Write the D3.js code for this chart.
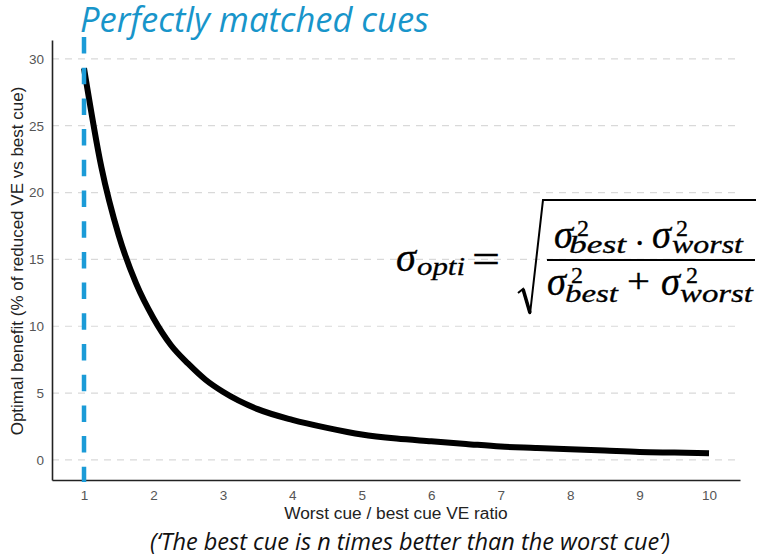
<!DOCTYPE html>
<html>
<head>
<meta charset="utf-8">
<script src="https://cdn.jsdelivr.net/npm/d3@7"></script>
<style>
  body { margin: 0; background: #fff; }
  svg { display: block; }
</style>
</head>
<body>
<div id="chart"></div>
<script>
// Values
const ratio   = [1, 1.25, 1.5, 1.75, 2, 2.25, 2.5, 2.75, 3, 3.5, 4, 4.5, 5, 5.5, 6, 6.5, 7, 7.5, 8, 8.5, 9, 9.5, 10];
const benefit = [29.3, 21.9, 16.8, 13.2, 10.6, 8.6, 7.2, 6.0, 5.1, 3.8, 3.0, 2.4, 1.9, 1.6, 1.4, 1.2, 1.0, 0.9, 0.8, 0.7, 0.6, 0.55, 0.5];
const xTicks = [1, 2, 3, 4, 5, 6, 7, 8, 9, 10];
const yTicks = [0, 5, 10, 15, 20, 25, 30];
const matchedRatio = 1;

const width = 768, height = 559;
const plot = { left: 52, right: 740, top: 40, bottom: 480 };

const svg = d3.select("#chart")
  .append("svg")
  .attr("width", width)
  .attr("height", height);

// Scales
const x = d3.scaleLinear()
  .domain([0.539, 10.446])
  .range([plot.left, plot.right]);

const y = d3.scaleLinear()
  .domain([-1.5, 31.41])
  .range([plot.bottom, plot.top]);

// Horizontal dashed gridlines
svg.append("g")
  .selectAll("line")
  .data(yTicks)
  .join("line")
  .attr("x1", plot.left)
  .attr("x2", plot.right - 2)
  .attr("y1", d => y(d))
  .attr("y2", d => y(d))
  .attr("stroke", "#d9d9d9")
  .attr("stroke-width", 1.2)
  .attr("stroke-dasharray", "7,6");

// Axes (no tick marks, just labels)
const xAxis = svg.append("g")
  .attr("transform", `translate(0,${plot.bottom})`)
  .call(d3.axisBottom(x).tickValues(xTicks).tickSize(0).tickPadding(10));

const yAxis = svg.append("g")
  .attr("transform", `translate(${plot.left},0)`)
  .call(d3.axisLeft(y).tickValues(yTicks).tickSize(0).tickPadding(8));

[xAxis, yAxis].forEach(a => {
  a.select(".domain").attr("stroke", "#222").attr("stroke-width", 1.6);
  a.selectAll("text")
    .attr("fill", "#555")
    .style("font-family", "'Liberation Sans', Arial, sans-serif")
    .style("font-size", "13.5px");
});

// Curve
const line = d3.line()
  .x(d => x(d[0]))
  .y(d => y(d[1]))
  .curve(d3.curveMonotoneX);

svg.append("path")
  .datum(ratio.map((r, i) => [r, benefit[i]]))
  .attr("fill", "none")
  .attr("stroke", "#000")
  .attr("stroke-width", 6)
  .attr("d", line);

// Perfectly matched cues line
svg.append("line")
  .attr("x1", x(matchedRatio))
  .attr("x2", x(matchedRatio))
  .attr("y1", 37)
  .attr("y2", plot.bottom + 2)
  .attr("stroke", "#1b9bd7")
  .attr("stroke-width", 4.5)
  .attr("stroke-dasharray", "16.5,14.2");

// Titles
svg.append("text")
  .attr("x", 80)
  .attr("y", 32)
  .attr("fill", "#1895ca")
  .style("font-family", "'Open Sans', sans-serif")
  .style("font-style", "italic")
  .style("font-size", "34.5px")
  .text("Perfectly matched cues");

svg.append("text")
  .attr("x", 396)
  .attr("y", 519)
  .attr("text-anchor", "middle")
  .attr("fill", "#222")
  .style("font-family", "'Liberation Sans', Arial, sans-serif")
  .style("font-size", "17.3px")
  .text("Worst cue / best cue VE ratio");

svg.append("text")
  .attr("transform", "translate(22.5,261) rotate(-90)")
  .attr("text-anchor", "middle")
  .attr("fill", "#222")
  .style("font-family", "'Liberation Sans', Arial, sans-serif")
  .style("font-size", "17px")
  .text("Optimal benefit (% of reduced VE vs best cue)");

svg.append("text")
  .attr("x", 410)
  .attr("y", 550)
  .attr("text-anchor", "middle")
  .attr("fill", "#111")
  .style("font-family", "'Open Sans', sans-serif")
  .style("font-style", "italic")
  .style("font-size", "23.5px")
  .text("(\u2018The best cue is n times better than the worst cue\u2019)");

// Formula
const eq = svg.append("g")
  .attr("fill", "#000")
  .attr("stroke", "#000")
  .attr("stroke-width", 0.3)
  .style("font-family", "'Liberation Serif', 'DejaVu Serif', serif")
  .style("font-style", "italic");

function put(tx, px, py, size, len) {
  const t = eq.append("text")
    .attr("x", px)
    .attr("y", py)
    .style("font-size", size + "px")
    .text(tx);
  if (len) t.attr("textLength", len).attr("lengthAdjust", "spacingAndGlyphs");
  return t;
}

put("\u03c3", 396, 271, 41, 20);
put("opti", 417, 275, 26, 48);
put("=", 472, 273, 40, 28).style("font-style", "normal");

eq.append("path")
  .attr("d", "M518,293 L523,289 L530,314 L543,200 L756,200")
  .attr("fill", "none")
  .attr("stroke-width", 2);
eq.append("line")
  .attr("x1", 523).attr("y1", 289).attr("x2", 530).attr("y2", 313)
  .attr("stroke-width", 3.5);

eq.append("line")
  .attr("x1", 547).attr("x2", 755)
  .attr("y1", 260).attr("y2", 260)
  .attr("stroke-width", 2);

// numerator
put("\u03c3", 554, 248, 39, 19);
put("2", 577, 236, 24).style("font-style", "normal");
put("best", 569, 253, 25, 57);
put("\u00b7", 634, 254, 34).style("font-style", "normal");
put("\u03c3", 652, 248, 39, 19);
put("2", 676, 236, 24).style("font-style", "normal");
put("worst", 672, 253, 25, 71);

// denominator
put("\u03c3", 547, 295, 39, 19);
put("2", 571, 283, 24).style("font-style", "normal");
put("best", 565, 302, 25, 53);
put("+", 627, 292, 34, 23).style("font-style", "normal");
put("\u03c3", 661, 295, 39, 19);
put("2", 686, 283, 24).style("font-style", "normal");
put("worst", 680, 302, 25, 73);
</script>
</body>
</html>
